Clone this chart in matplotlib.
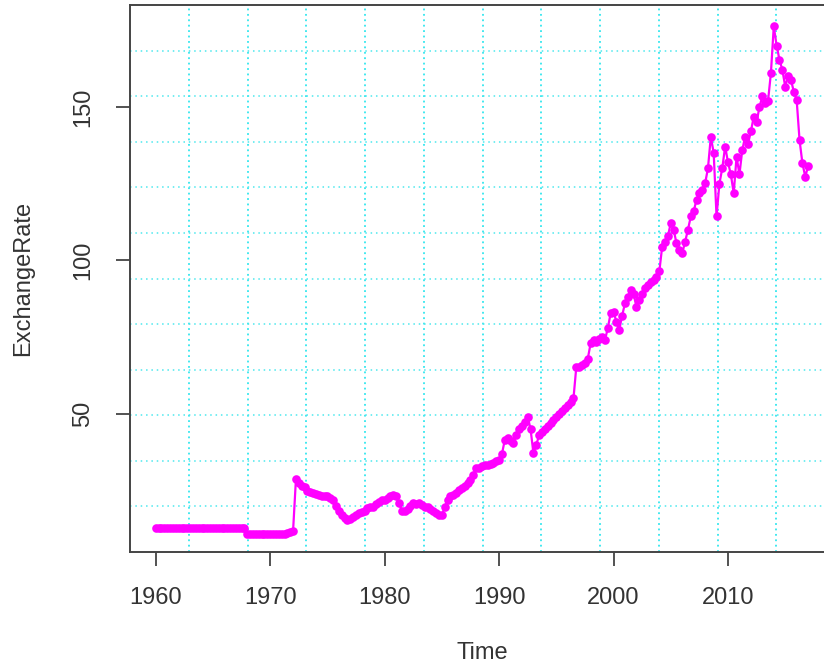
import numpy as np
import matplotlib
matplotlib.use("Agg")
import matplotlib.pyplot as plt

plt.rcParams['font.family'] = ['Liberation Sans', 'DejaVu Sans']

# quarterly readings (Q1..Q4), one list per decade
rate_1960s = [12.8] * 32 + [11.0] * 8
rate_1970s = [
    11.0, 11.0, 11.0, 11.0,
    11.0, 11.0, 11.1, 11.5,
    12.0, 28.8, 27.5, 26.5,
    26.3, 25.0, 24.5, 24.2,
    24.0, 23.6, 23.3, 23.4,
    23.1, 22.5, 21.8, 20.0,
    18.5, 17.1, 16.0, 15.5,
    15.8, 16.3, 17.0, 17.6,
    18.0, 18.5, 19.2, 19.5,
    19.8, 20.5, 21.2, 21.8,
]
rate_1980s = [
    22.0, 22.6, 23.1, 23.6,
    23.2, 21.0, 18.5, 18.2,
    19.0, 20.0, 20.9, 20.5,
    20.9, 20.3, 19.8, 19.5,
    19.0, 18.5, 17.8, 17.1,
    17.1, 19.5, 22.0, 23.1,
    23.5, 24.3, 25.2, 25.8,
    26.5, 27.5, 28.5, 30.0,
    32.3, 32.5, 33.0, 33.2,
    33.4, 33.6, 34.0, 34.5,
]
rate_1990s = [
    35.0, 37.0, 41.5, 42.0,
    41.0, 40.5, 43.0, 45.0,
    46.0, 47.5, 49.1, 45.0,
    37.2, 40.0, 43.0, 44.2,
    45.0, 46.0, 47.0, 48.0,
    49.1, 50.0, 51.0, 52.0,
    52.9, 54.0, 55.1, 65.4,
    65.4, 65.8, 66.5, 68.0,
    73.0, 74.1, 73.5, 74.5,
    75.2, 74.0, 78.0, 82.8,
]
rate_2000s = [
    83.3, 80.0, 77.4, 82.0,
    86.0, 88.0, 90.4, 89.0,
    84.9, 87.0, 89.0, 91.0,
    92.0, 93.0, 93.6, 94.5,
    96.4, 104.5, 106.0, 108.0,
    112.1, 110.0, 105.6, 103.5,
    102.3, 106.0, 110.0, 114.3,
    116.0, 119.7, 121.9, 123.0,
    125.1, 130.0, 140.3, 135.0,
    114.3, 125.0, 130.0, 137.1,
]
rate_2010s = [
    132.0, 128.0, 121.9, 133.8,
    128.0, 136.0, 140.3, 138.0,
    142.0, 146.8, 145.0, 150.0,
    153.4, 151.2, 152.0, 161.0,
    176.2, 170.0, 165.3, 162.1,
    156.6, 160.0, 158.8, 155.0,
    152.3, 139.3, 131.7, 127.3,
    130.6,
]

rate = np.array(rate_1960s + rate_1970s + rate_1980s + rate_1990s + rate_2000s + rate_2010s)
time = 1960 + np.arange(len(rate)) / 4.0

x_ticks = [1960, 1970, 1980, 1990, 2000, 2010]
y_ticks = [50, 100, 150]

fig = plt.figure(figsize=(8.24, 6.66), dpi=100)
ax = fig.add_axes([130 / 824, 1 - 552 / 666, 705 / 824, 547 / 666])

xlim = (1957.75, 2019.35)
ylim = (5.0, 183.2)
ax.set_xlim(*xlim)
ax.set_ylim(*ylim)

# grid(12, 12) style: equally spaced cyan dotted lines
for gx in np.linspace(xlim[0], xlim[1], 13)[1:-1]:
    ax.axvline(gx, color='#33E6EE', lw=1.3, ls=(0, (1, 2)), zorder=1)
for gy in np.linspace(ylim[0], ylim[1], 13)[1:-1]:
    ax.axhline(gy, color='#4DE8EE', lw=1.1, ls=(0, (1, 2.5)), zorder=1)

ax.plot(time, rate, color='magenta', lw=1.6, marker='o', markersize=6.2,
        markeredgewidth=0, zorder=3)

for s in ax.spines.values():
    s.set_color('#444444')
    s.set_linewidth(1.4)

ax.set_xticks(x_ticks)
ax.set_xticklabels([str(t) for t in x_ticks])
ax.set_yticks(y_ticks)
ax.set_yticklabels([str(t) for t in y_ticks], rotation=90, va='center')
ax.tick_params(axis='both', direction='out', length=10, width=1.3,
               color='#444444', labelcolor='#333333', labelsize=17)
ax.tick_params(axis='x', pad=15)
ax.tick_params(axis='y', pad=16)

ax.set_xlabel('Time', fontsize=17, color='#333333', labelpad=24)
ax.set_ylabel('ExchangeRate', fontsize=17, color='#333333', labelpad=27)

fig.savefig('out.png', dpi=100)
